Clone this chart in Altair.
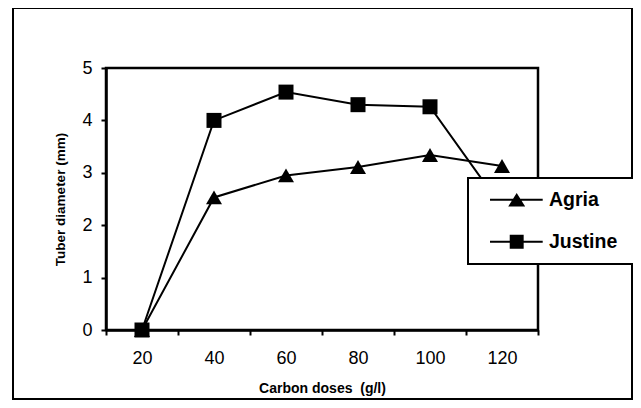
import altair as alt
import pandas as pd

doses = ["20", "40", "60", "80", "100", "120"]
agria = [0.0, 2.53, 2.95, 3.11, 3.34, 3.13]
justine = [0.0, 4.00, 4.54, 4.30, 4.26, 2.34]
series = ["Agria", "Justine"]
y_ticks = [0, 1, 2, 3, 4, 5]

rows = []
for d, a, j in zip(doses, agria, justine):
    rows.append({"dose": d, "value": a, "series": "Agria"})
    rows.append({"dose": d, "value": j, "series": "Justine"})
df = pd.DataFrame(rows)

FONT = "Liberation Sans"

# legend glyphs: line segment with marker (custom paths, unit = sqrt(size)/2);
# the tiny far-right sub-path only widens the legend box to the chart edge
tail = " M19,0 L19.01,0 L19,0.01 Z"
tri_path = ("M0.03,-0.12 L6.23,-0.12 L6.23,0.12 L0.03,0.12 Z "
            "M3.17,-0.80 L4.17,0.80 L2.17,0.80 Z" + tail)
sq_path = ("M0.03,-0.12 L6.23,-0.12 L6.23,0.12 L0.03,0.12 Z "
           "M2.35,-0.82 L3.99,-0.82 L3.99,0.82 L2.35,0.82 Z" + tail)

x_enc = alt.X(
    "dose:O",
    scale=alt.Scale(type="band", domain=doses, paddingInner=0, paddingOuter=0),
    axis=alt.Axis(
        title="Carbon doses\u00a0 (g/l)",
        tickBand="extent",
        labelAngle=0,
        labelPadding=14,
        titleFontSize=14,
        titleY=58,
        titleBaseline="middle",
    ),
)
y_enc = alt.Y(
    "value:Q",
    scale=alt.Scale(domain=[0, 5], nice=False),
    axis=alt.Axis(
        title="Tuber diameter (mm)",
        values=y_ticks,
        labelPadding=9,
        titleFontSize=13.5,
        titleX=-46,
        titleY=131,
        titleBaseline="middle",
    ),
)

base = alt.Chart(df)

border = alt.Chart(alt.Data(values=[{"k": 1}])).mark_rect(
    fill="white", fillOpacity=0, stroke="black", strokeWidth=2
).encode(
    x=alt.value(-93), x2=alt.value(526), y=alt.value(-60), y2=alt.value(331)
)

lines = base.mark_line(color="black", strokeWidth=2).encode(
    x=x_enc, y=y_enc, detail="series:N"
)

points = base.mark_point(filled=True, color="black", opacity=1).encode(
    x=x_enc,
    y=y_enc,
    shape=alt.Shape(
        "series:N",
        scale=alt.Scale(domain=series, range=["triangle-up", "square"]),
        legend=None,
    ),
    size=alt.Size(
        "series:O",
        scale=alt.Scale(domain=series, range=[256, 225]),
        legend=None,
    ),
)

legend_layer = base.transform_filter("false").mark_point(
    filled=True, color="black", opacity=1, size=289
).encode(
    x=x_enc,
    y=y_enc,
    shape=alt.Shape(
        "series:N",
        scale=alt.Scale(domain=series, range=[tri_path, sq_path]),
        legend=alt.Legend(
            title=None,
            orient="none",
            legendX=362,
            legendY=110,
            padding=12,
            rowPadding=21,
            labelOffset=49.5,
            symbolSize=289,
            symbolStrokeWidth=0,
            symbolFillColor="black",
            labelFont=FONT,
            labelFontSize=19.5,
            labelFontWeight="bold",
            labelColor="black",
        ),
    ),
)

chart = (
    alt.layer(border, lines, points, legend_layer)
    .resolve_scale(shape="independent")
    .properties(
        width=432,
        height=262,
        autosize="none",
        padding={"left": 98, "top": 60, "right": 95, "bottom": 70},
        background="white",
    )
    .configure_view(stroke="black", strokeWidth=2.5)
    .configure_axis(
        grid=False,
        domainColor="black",
        domainWidth=2.5,
        tickColor="black",
        tickWidth=2,
        tickSize=5,
        labelColor="black",
        labelFont=FONT,
        labelFontSize=18,
        titleFont=FONT,
        titleFontWeight="bold",
        titleColor="black",
    )
    .configure_legend(strokeColor="black", fillColor="white", strokeWidth=2)
)

chart.save("out.html", embed_options={"renderer": "svg", "actions": False})
